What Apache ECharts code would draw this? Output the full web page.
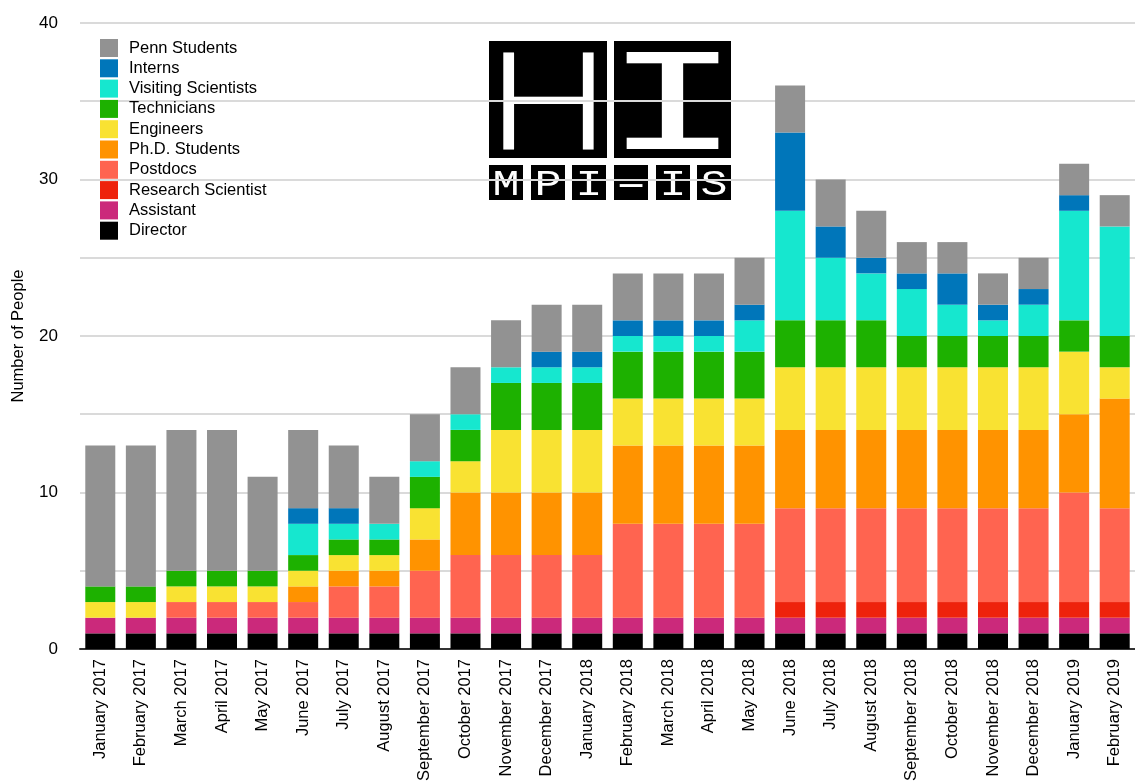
<!DOCTYPE html>
<html>
<head>
<meta charset="utf-8">
<title>MPI-IS Haptic Intelligence – Team Size</title>
<script src="https://cdn.jsdelivr.net/npm/echarts@6/dist/echarts.min.js"></script>
<style>
  html, body { margin: 0; padding: 0; background: #ffffff; }
  #chart { width: 1135px; height: 784px; }
</style>
</head>
<body>
<div id="chart"></div>
<script>
// Monthly head count of the department, by role.
const months = [
  'January 2017', 'February 2017', 'March 2017', 'April 2017', 'May 2017', 'June 2017',
  'July 2017', 'August 2017', 'September 2017', 'October 2017', 'November 2017', 'December 2017',
  'January 2018', 'February 2018', 'March 2018', 'April 2018', 'May 2018', 'June 2018',
  'July 2018', 'August 2018', 'September 2018', 'October 2018', 'November 2018', 'December 2018',
  'January 2019', 'February 2019'
];

const director          = [1,1,1,1,1,1,1,1,1,1,1,1,1,1,1,1,1,1,1,1,1,1,1,1,1,1];
const assistant         = [1,1,1,1,1,1,1,1,1,1,1,1,1,1,1,1,1,1,1,1,1,1,1,1,1,1];
const researchScientist = [0,0,0,0,0,0,0,0,0,0,0,0,0,0,0,0,0,1,1,1,1,1,1,1,1,1];
const postdocs          = [0,0,1,1,1,1,2,2,3,4,4,4,4,6,6,6,6,6,6,6,6,6,6,6,7,6];
const phdStudents       = [0,0,0,0,0,1,1,1,2,4,4,4,4,5,5,5,5,5,5,5,5,5,5,5,5,7];
const engineers         = [1,1,1,1,1,1,1,1,2,2,4,4,4,3,3,3,3,4,4,4,4,4,4,4,4,2];
const technicians       = [1,1,1,1,1,1,1,1,2,2,3,3,3,3,3,3,3,3,3,3,2,2,2,2,2,2];
const visitingSci       = [0,0,0,0,0,2,1,1,1,1,1,1,1,1,1,1,2,7,4,3,3,2,1,2,7,7];
const interns           = [0,0,0,0,0,1,1,0,0,0,0,1,1,1,1,1,1,5,2,1,1,2,1,1,1,0];
const pennStudents      = [9,9,9,9,6,5,4,3,3,3,3,3,3,3,3,3,3,3,3,3,2,2,2,2,2,2];

const yTicks = [0, 10, 20, 30, 40];

// Stack order, bottom to top.
const groups = [
  { name: 'Director',            data: director,          color: '#000000' },
  { name: 'Assistant',           data: assistant,         color: '#CB297B' },
  { name: 'Research Scientist',  data: researchScientist, color: '#EE220C' },
  { name: 'Postdocs',            data: postdocs,          color: '#FF6450' },
  { name: 'Ph.D. Students',      data: phdStudents,       color: '#FF9300' },
  { name: 'Engineers',           data: engineers,         color: '#F9E232' },
  { name: 'Technicians',         data: technicians,       color: '#1DB100' },
  { name: 'Visiting Scientists', data: visitingSci,       color: '#16E7CF' },
  { name: 'Interns',             data: interns,           color: '#0076BA' },
  { name: 'Penn Students',       data: pennStudents,      color: '#929292' }
];

const FONT = '"Liberation Sans", Arial, Helvetica, sans-serif';

// Department logo: black tiles with white lettering, drawn beneath the grid lines.
function tile(x, y, w, h) {
  return { type: 'rect', z2: 0,
           shape: { x: x, y: y, width: w, height: h },
           style: { fill: '#000000' } };
}
function letter(ch, cx, cy, font, sx, sy, weightPx) {
  const style = { text: ch, x: 0, y: 0, fill: '#ffffff', font: font,
                  textAlign: 'center', textVerticalAlign: 'middle' };
  if (weightPx) { style.stroke = '#ffffff'; style.lineWidth = weightPx; }
  return { type: 'text', z2: 1, x: cx, y: cy, scaleX: sx, scaleY: sy, style: style };
}
const smallX = [489, 531, 572, 614, 656, 697];
const smallLetters = ['M', 'P', 'I', '-', 'I', 'S'];
const logo = [
  tile(489, 41, 118, 117),
  tile(614, 41, 117, 117),
  letter('H', 548.5, 106, '300 134px Lato', 1.2, 1, 2),
  letter('I', 672.5, 110.5, '147px "Liberation Mono"', 1.55, 1)
];
smallX.forEach(function (x, i) {
  logo.push(tile(x, 165, 34, 35));
  const ch = smallLetters[i];
  logo.push(letter(ch, x + 17, 185, '36px "Liberation Mono"', ch === '-' ? 2.3 : 1.25, 1));
});

const barSeries = groups.map(function (g) {
  return {
    name: g.name,
    type: 'bar',
    stack: 'staff',
    barWidth: 30,
    data: g.data,
    itemStyle: { color: g.color },
    emphasis: { disabled: true }
  };
});

const logoSeries = {
  type: 'custom',
  name: 'MPI-IS',
  coordinateSystem: 'none',
  z: -1,
  silent: true,
  data: [0],
  renderItem: function () { return { type: 'group', children: logo }; }
};

const chart = echarts.init(document.getElementById('chart'), null, { renderer: 'canvas' });

chart.setOption({
  animation: false,
  backgroundColor: '#ffffff',
  textStyle: { fontFamily: FONT },
  grid: { left: 80, top: 23, width: 1063, height: 628, containLabel: false },
  legend: {
    orient: 'vertical',
    left: 95,
    top: 34,
    itemWidth: 18,
    itemHeight: 18,
    itemGap: 2.3,
    icon: 'rect',
    selectedMode: false,
    data: groups.map(function (g) { return g.name; }).reverse(),
    textStyle: { fontFamily: FONT, fontSize: 16.5, color: '#000000', padding: [0, 0, 0, 6] }
  },
  xAxis: {
    type: 'category',
    data: months,
    axisTick: { show: false },
    axisLine: { lineStyle: { color: '#333333', width: 2 } },
    axisLabel: { rotate: 90, interval: 0, margin: 10, fontSize: 16.5, color: '#000000', fontFamily: FONT }
  },
  yAxis: {
    type: 'value',
    min: yTicks[0],
    max: yTicks[yTicks.length - 1],
    interval: 5,
    name: 'Number of People',
    nameLocation: 'middle',
    nameGap: 53,
    nameTextStyle: { fontSize: 16.5, color: '#000000', fontFamily: FONT },
    axisLine: { show: false },
    axisTick: { show: false },
    axisLabel: {
      margin: 22, fontSize: 17, color: '#000000', fontFamily: FONT,
      formatter: function (v) { return yTicks.indexOf(v) >= 0 ? String(v) : ''; }
    },
    splitLine: { lineStyle: { color: '#dadada', width: 2 } }
  },
  series: [logoSeries].concat(barSeries)
});
</script>
</body>
</html>
